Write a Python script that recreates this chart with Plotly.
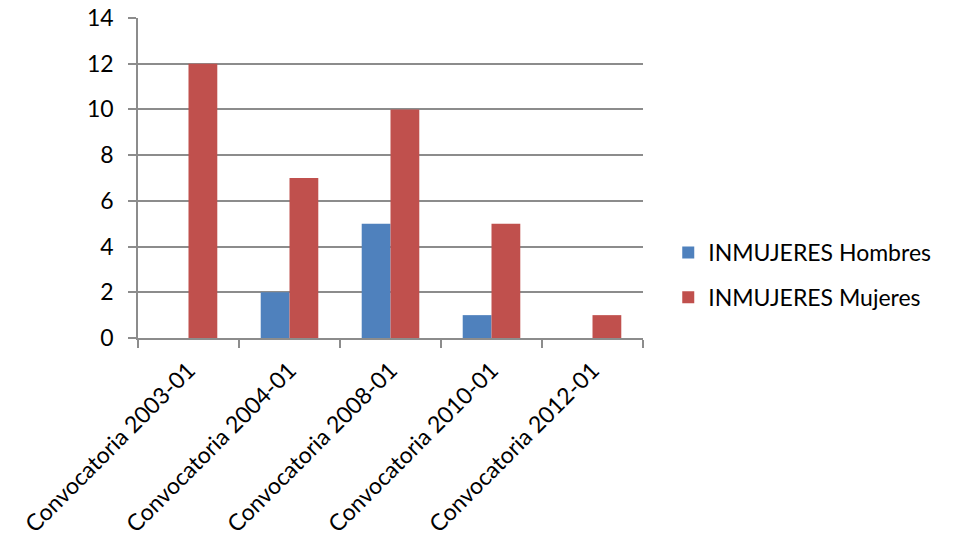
import plotly.graph_objects as go

categories = ["Convocatoria 2003-01", "Convocatoria 2004-01", "Convocatoria 2008-01",
              "Convocatoria 2010-01", "Convocatoria 2012-01"]
hombres = [0, 2, 5, 1, 0]
mujeres = [12, 7, 10, 5, 1]
y_ticks = [0, 2, 4, 6, 8, 10, 12, 14]

FONT = "Lato"
GRID = "#8c8c8c"
SIZE = 23

fig = go.Figure()
fig.add_trace(go.Bar(x=categories, y=hombres, name="INMUJERES Hombres",
                     marker=dict(color="#4F81BD", line=dict(width=0)),
                     legendgroup="h"))
fig.add_trace(go.Bar(x=categories, y=mujeres, name="INMUJERES Mujeres",
                     marker=dict(color="#C0504D", line=dict(width=0)),
                     legendgroup="m"))

fig.update_layout(
    width=953, height=542,
    margin=dict(l=138, r=310, t=18, b=204),
    paper_bgcolor="white", plot_bgcolor="white",
    barmode="group", bargap=0.43, bargroupgap=0,
    font=dict(family=FONT, size=SIZE, color="black"),
    legend=dict(x=1.05, y=0.197, xanchor="left", yanchor="middle",
                font=dict(family=FONT, size=SIZE, color="black"),
                tracegroupgap=12, itemwidth=30),
    xaxis=dict(type="category", tickangle=-45, tickson="boundaries",
               ticks="outside", ticklen=8, tickcolor=GRID, tickwidth=1.5,
               showline=True, linecolor=GRID, linewidth=1.5,
               showgrid=False, tickfont=dict(size=SIZE),
               automargin=False, ticklabelstandoff=8),
    yaxis=dict(range=[0, 14], tickvals=y_ticks, showgrid=True,
               gridcolor=GRID, gridwidth=1.5, ticks="outside", ticklen=8,
               tickcolor=GRID, tickwidth=1.5, showline=True, linecolor=GRID,
               linewidth=1.5, zeroline=False, tickfont=dict(size=SIZE),
               automargin=False, ticklabelstandoff=10),
)

fig.write_html("out.html")
